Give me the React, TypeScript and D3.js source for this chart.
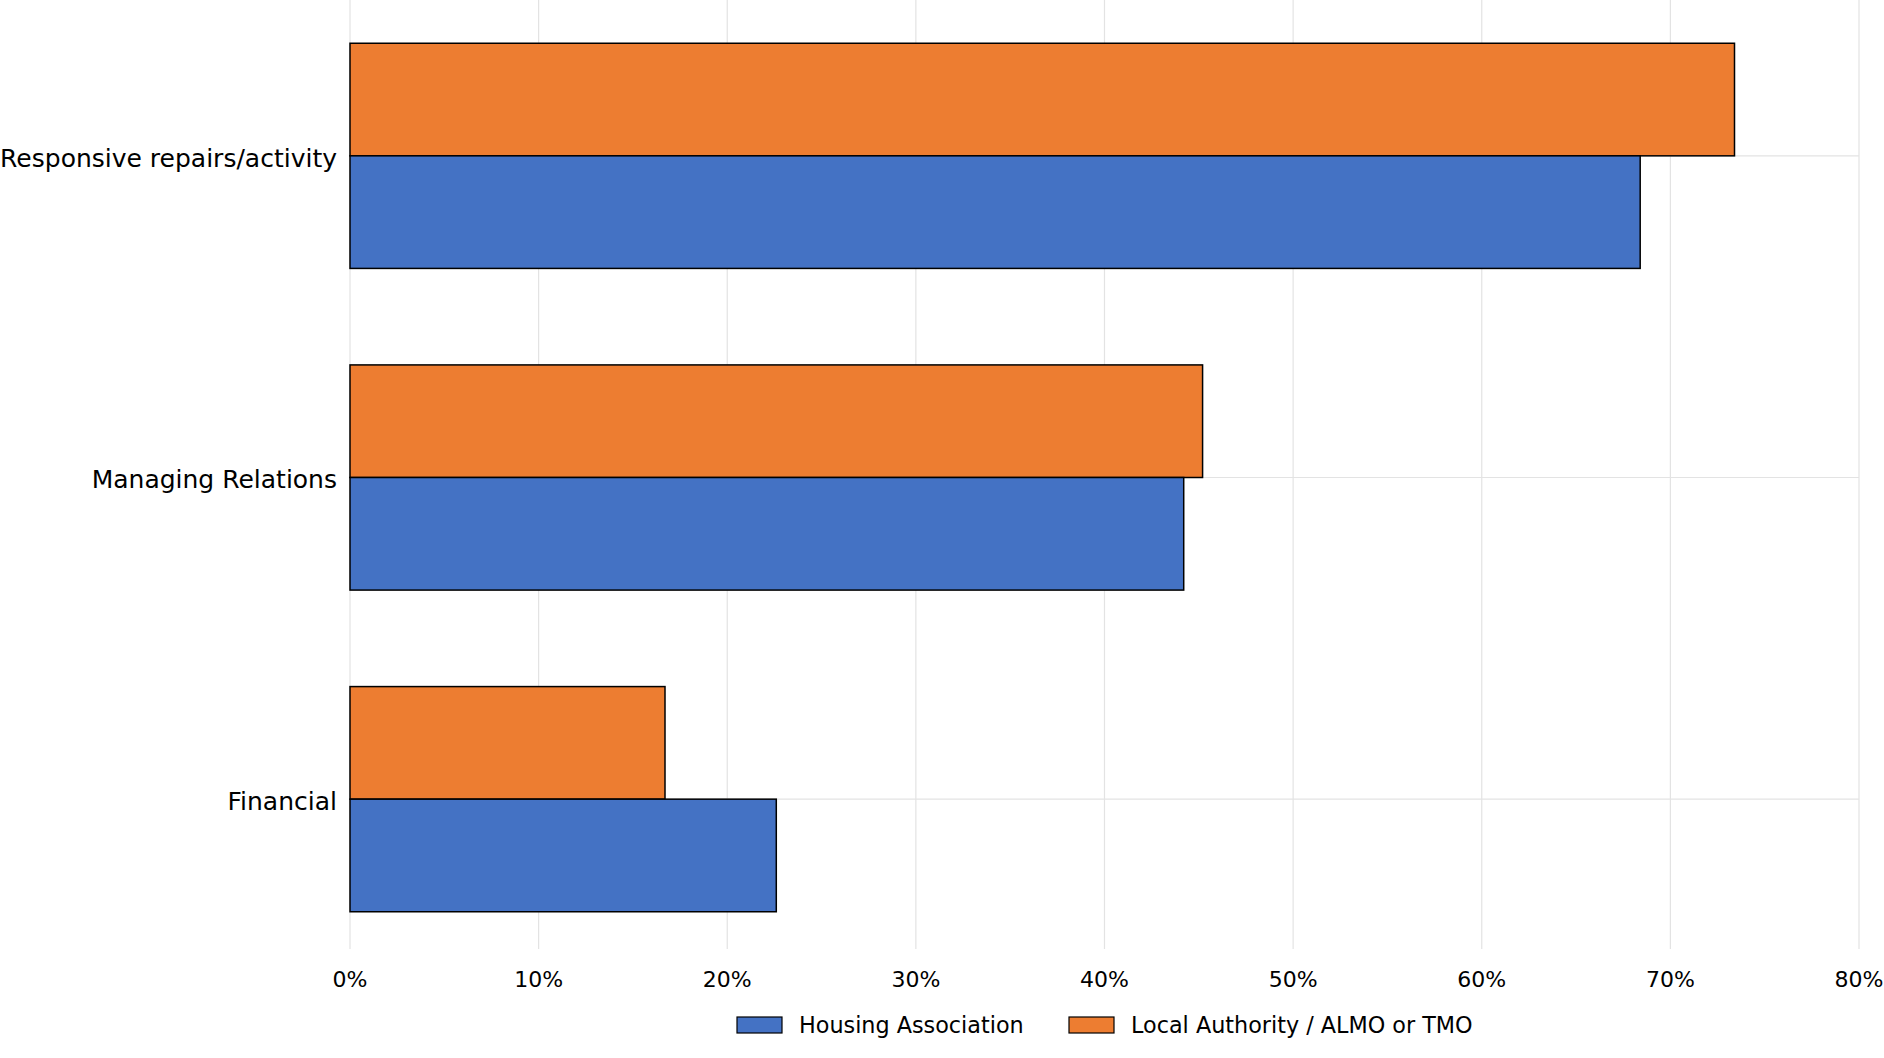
import React, { useEffect, useRef } from "react";
import * as d3 from "d3";

const categories = ["Responsive repairs/activity", "Managing Relations", "Financial"];
const seriesNames = ["Housing Association", "Local Authority / ALMO or TMO"];
const housingAssociation = [68.4, 44.2, 22.6];
const localAuthority = [73.4, 45.2, 16.7];
const xTicks = [0, 10, 20, 30, 40, 50, 60, 70, 80];
const colors = ["#4472C4", "#ED7D31"];

export default function App() {
  const svgRef = useRef<SVGSVGElement>(null);
  const width = 1884;
  const height = 1058;

  useEffect(() => {
    const svg = d3.select(svgRef.current);
    svg.selectAll("*").remove();

    const left = 350;
    const right = 1859;
    const plotTop = -5;
    const plotBottom = 960;

    const x = d3.scaleLinear().domain([0, 80]).range([left, right]);
    const y = d3.scaleBand().domain(categories).range([plotTop, plotBottom]).paddingInner(0).paddingOuter(0);
    const barH = y.bandwidth() * 0.35;

    const g = svg.append("g");

    // grid
    g.selectAll("line.vgrid")
      .data(xTicks)
      .join("line")
      .attr("class", "vgrid")
      .attr("x1", d => x(d))
      .attr("x2", d => x(d))
      .attr("y1", 0)
      .attr("y2", 949)
      .attr("stroke", "#e3e3e3")
      .attr("stroke-width", 1.2);

    g.selectAll("line.hgrid")
      .data(categories)
      .join("line")
      .attr("class", "hgrid")
      .attr("x1", left)
      .attr("x2", right)
      .attr("y1", d => y(d)! + y.bandwidth() / 2)
      .attr("y2", d => y(d)! + y.bandwidth() / 2)
      .attr("stroke", "#e3e3e3")
      .attr("stroke-width", 1.2);

    // bars: orange above center, blue below
    const rows = categories.map((c, i) => ({ c, ha: housingAssociation[i], la: localAuthority[i] }));

    g.selectAll("rect.la")
      .data(rows)
      .join("rect")
      .attr("class", "la")
      .attr("x", x(0))
      .attr("y", d => y(d.c)! + y.bandwidth() / 2 - barH)
      .attr("width", d => x(d.la) - x(0))
      .attr("height", barH)
      .attr("fill", colors[1])
      .attr("stroke", "#000")
      .attr("stroke-width", 1.5);

    g.selectAll("rect.ha")
      .data(rows)
      .join("rect")
      .attr("class", "ha")
      .attr("x", x(0))
      .attr("y", d => y(d.c)! + y.bandwidth() / 2)
      .attr("width", d => x(d.ha) - x(0))
      .attr("height", barH)
      .attr("fill", colors[0])
      .attr("stroke", "#000")
      .attr("stroke-width", 1.5);

    // category labels
    g.selectAll("text.cat")
      .data(categories)
      .join("text")
      .attr("class", "cat")
      .attr("x", left - 13)
      .attr("y", d => y(d)! + y.bandwidth() / 2 + 2)
      .attr("dy", "0.35em")
      .attr("text-anchor", "end")
      .attr("font-family", "DejaVu Sans")
      .attr("font-size", 25)
      .attr("fill", "#000")
      .text(d => d);

    // x tick labels
    g.selectAll("text.tick")
      .data(xTicks)
      .join("text")
      .attr("class", "tick")
      .attr("x", d => x(d))
      .attr("y", 979)
      .attr("dy", "0.35em")
      .attr("text-anchor", "middle")
      .attr("font-family", "DejaVu Sans")
      .attr("font-size", 22)
      .attr("fill", "#000")
      .text(d => d + "%");

    // legend
    const legend = g.append("g").attr("transform", "translate(737, 1025)");
    const legendX = [0, 332];
    seriesNames.forEach((name, i) => {
      legend.append("rect")
        .attr("x", legendX[i])
        .attr("y", -8)
        .attr("width", 45)
        .attr("height", 16)
        .attr("fill", colors[i])
        .attr("stroke", "#000")
        .attr("stroke-width", 1.2);
      legend.append("text")
        .attr("x", legendX[i] + 62)
        .attr("y", 0)
        .attr("dy", "0.35em")
        .attr("font-family", "DejaVu Sans")
        .attr("font-size", 22.3)
        .attr("fill", "#000")
        .text(name);
    });
  }, []);

  return (
    <svg
      ref={svgRef}
      width={width}
      height={height}
      style={{ position: "absolute", left: 0, top: 0, background: "#fff" }}
    ></svg>
  );
}
